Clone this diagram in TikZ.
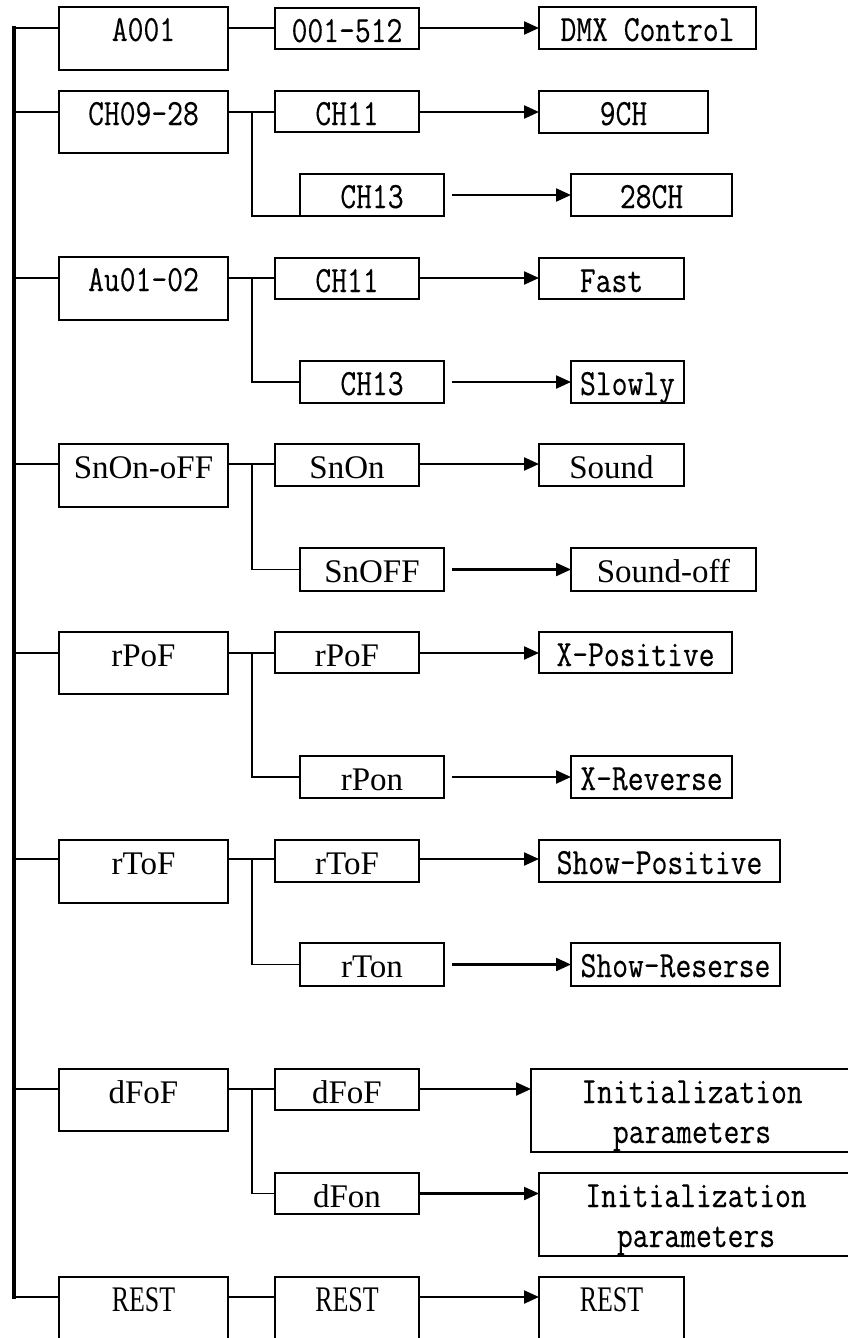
\documentclass[tikz,border=0pt]{standalone}
\usepackage{fontspec}
\setmainfont{Liberation Serif}
\newfontfamily\monof[FakeStretch=0.83,FakeBold=0.3]{Latin Modern Mono}
\newfontfamily\narf[FakeStretch=0.72]{Liberation Serif}
\usetikzlibrary{arrows.meta}
\tikzset{
  boxs/.style={draw, line width=1.5pt, inner sep=0pt, outer sep=0pt},
  mono/.style={font=\monof\fontsize{37}{40}\selectfont, inner sep=0pt, anchor=base},
  seri/.style={font=\fontsize{33}{38}\selectfont, inner sep=0pt, anchor=base},
  narr/.style={font=\narf\fontsize{36}{40}\selectfont, inner sep=0pt, anchor=base},
  conn/.style={line width=1.4pt},
  arr/.style={line width=2.2pt, -{Triangle[length=15pt,width=13pt]}},
  bar/.style={line width=4.5pt}
}
% name x1 y1 x2 y2 style text
\newcommand\bx[7]{%
  \node[boxs, anchor=north west, minimum width={(#4-#2)*1pt}, minimum height={(#5-#3)*1pt}] (#1) at (#2,#3) {};
  \node[#6] (#1t) at ({(#2+#4)/2},{#3+34}) {#7};
}
\begin{document}
\begin{tikzpicture}[x=1pt,y=-1pt]
\useasboundingbox (0,0) rectangle (848,1338);
\clip (0,0) rectangle (848,1338);
% row 1
\bx{a1}{59}{7}{228}{70}{mono}{A001}
\bx{a2}{275}{8}{419}{49}{mono}{001-512}
\bx{a3}{539}{7}{756}{49}{mono}{DMX Control}
% row 2
\bx{b1}{59}{91}{228}{153}{mono}{CH09-28}
\bx{b2}{275}{91}{419}{132}{mono}{CH11}
\bx{b3}{539}{91}{708}{133}{mono}{9CH}
\bx{b4}{300}{174}{444}{216}{mono}{CH13}
\bx{b5}{571}{174}{732}{216}{mono}{28CH}
% row 3
\bx{c1}{59}{257}{228}{320}{mono}{Au01-02}
\bx{c2}{275}{258}{419}{299}{mono}{CH11}
\bx{c3}{539}{258}{684}{299}{mono}{Fast}
\bx{c4}{300}{361}{444}{403}{mono}{CH13}
\bx{c5}{571}{361}{684}{403}{mono}{Slowly}
% row 4
\bx{d1}{59}{444}{228}{507}{seri}{SnOn-oFF}
\bx{d2}{275}{444}{419}{486}{seri}{SnOn}
\bx{d3}{539}{444}{684}{486}{seri}{Sound}
\bx{d4}{300}{548}{444}{591}{seri}{SnOFF}
\bx{d5}{571}{548}{756}{591}{seri}{Sound-off}
% row 5
\bx{e1}{59}{632}{228}{694}{seri}{rPoF}
\bx{e2}{275}{632}{419}{673}{seri}{rPoF}
\bx{e3}{539}{632}{732}{673}{mono}{X-Positive}
\bx{e4}{300}{756}{444}{798}{seri}{rPon}
\bx{e5}{571}{756}{732}{798}{mono}{X-Reverse}
% row 6
\bx{f1}{59}{840}{228}{903}{seri}{rToF}
\bx{f2}{275}{840}{419}{882}{seri}{rToF}
\bx{f3}{539}{840}{780}{882}{mono}{Show-Positive}
\bx{f4}{300}{943}{444}{986}{seri}{rTon}
\bx{f5}{571}{943}{780}{986}{mono}{Show-Reserse}
% row 7
\bx{g1}{59}{1069}{228}{1131}{seri}{dFoF}
\bx{g2}{275}{1069}{419}{1110}{seri}{dFoF}
\node[boxs, anchor=north west, minimum width=340pt, minimum height=83pt] (g3) at (531,1069) {};
\node[mono] (g3a) at (692,1103) {Initialization};
\node[mono] (g3b) at (692,1143) {parameters};
\bx{g4}{275}{1173}{419}{1214}{seri}{dFon}
\node[boxs, anchor=north west, minimum width=340pt, minimum height=83pt] (g5) at (539,1173) {};
\node[mono] (g5a) at (696,1207) {Initialization};
\node[mono] (g5b) at (696,1247) {parameters};
% row 8
\bx{h1}{59}{1277}{228}{1370}{narr}{REST}
\bx{h2}{275}{1277}{419}{1370}{narr}{REST}
\bx{h3}{539}{1277}{684}{1370}{narr}{REST}
% main bar
\coordinate (ya) at (14,28);
\coordinate (yb) at (14,112);
\coordinate (yc) at (14,278);
\coordinate (yd) at (14,464);
\coordinate (ye) at (14,653);
\coordinate (yf) at (14,859);
\coordinate (yg) at (14,1089);
\coordinate (yh) at (14,1297);
\draw[bar] ([yshift=2pt]ya) -- ([yshift=-2pt]yh);
\foreach \r in {a,b,c,d,e,f,g,h}{
  \draw[conn] (y\r) -- (y\r -| \r1.west);
  \draw[conn] (\r1.east |- y\r) -- (\r2.west |- y\r);
}
% first-child arrows
\foreach \r in {a,b,c,d,e,f,g,h}{
  \draw[arr] (\r2.east |- y\r) -- (\r3.west |- y\r);
}
% junctions to second children
\coordinate (jb) at (252,112);
\coordinate (jc) at (252,278);
\coordinate (jd) at (252,464);
\coordinate (je) at (252,653);
\coordinate (jf) at (252,859);
\coordinate (jg) at (252,1089);
\draw[conn] (jb) -- (jb |- b4.south) -- (b4.south west);
\foreach \r in {c,d,e,f,g}{
  \draw[conn] (j\r) -- (j\r |- \r4.west) -- (\r4.west);
}
% second-child arrows
\foreach \r in {b,c,d,e,f}{
  \draw[arr] ([xshift=8pt]\r4.east) -- (\r5.west);
}
\draw[arr] (g4.east) -- (g5.west |- g4.east);
\end{tikzpicture}
\end{document}
